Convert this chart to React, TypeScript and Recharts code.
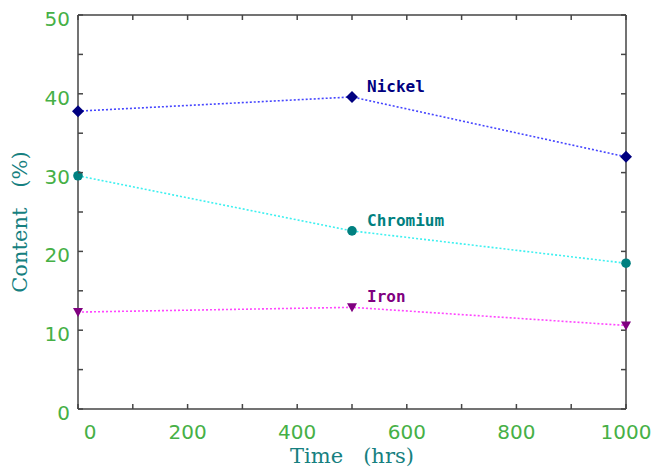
import React from 'react';
import { LineChart, Line, XAxis, YAxis, LabelList } from 'recharts';

const times = [0, 500, 1000];
const nickel = [37.8, 39.6, 32.0];
const chromium = [29.6, 22.6, 18.5];
const iron = [12.3, 12.9, 10.6];
const xTicks = [0, 100, 200, 300, 400, 500, 600, 700, 800, 900, 1000];
const yTicks = [0, 5, 10, 15, 20, 25, 30, 35, 40, 45, 50];
const xLabelStep = 200;
const yLabelStep = 10;
const seriesNames = ['Nickel', 'Chromium', 'Iron'];
const xTitle = 'Time   (hrs)';
const yTitle = 'Content   (%)';

const data = times.map((t, i) => ({ time: t, nickel: nickel[i], chromium: chromium[i], iron: iron[i] }));

const AXIS = '#454545';
const GREEN = '#46b046';
const TEAL = '#168080';
const TICK_LEN = 5;

const BottomTick = (p: any) => {
  const { x, y, payload } = p;
  const v = payload.value;
  return (
    <g>
      <line x1={x} y1={y} x2={x} y2={y - TICK_LEN} stroke={AXIS} strokeWidth={1.5} />
      {v % xLabelStep === 0 && (
        <text x={x + (v === 0 ? 12 : 0)} y={y + 30} textAnchor="middle" fill={GREEN} fontSize={20} fontFamily="DejaVu Sans">
          {v}
        </text>
      )}
    </g>
  );
};
const TopTick = (p: any) => {
  const { x, y } = p;
  return <line x1={x} y1={y} x2={x} y2={y + TICK_LEN} stroke={AXIS} strokeWidth={1.5} />;
};
const LeftTick = (p: any) => {
  const { x, y, payload } = p;
  const v = payload.value;
  return (
    <g>
      <line x1={x} y1={y} x2={x + TICK_LEN} y2={y} stroke={AXIS} strokeWidth={1.5} />
      {v % yLabelStep === 0 && (
        <text x={x - 8} y={y + 11} textAnchor="end" fill={GREEN} fontSize={20} fontFamily="DejaVu Sans">
          {v}
        </text>
      )}
    </g>
  );
};
const RightTick = (p: any) => {
  const { x, y } = p;
  return <line x1={x} y1={y} x2={x - TICK_LEN} y2={y} stroke={AXIS} strokeWidth={1.5} />;
};

const diamondDot = (color: string) => (p: any) => {
  const { cx, cy, index } = p;
  return (
    <polygon key={`d${index}`} points={`${cx},${cy - 6} ${cx + 6},${cy} ${cx},${cy + 6} ${cx - 6},${cy}`} fill={color} />
  );
};
const circleDot = (color: string) => (p: any) => {
  const { cx, cy, index } = p;
  return <circle key={`c${index}`} cx={cx} cy={cy} r={4.8} fill={color} />;
};
const triDot = (color: string) => (p: any) => {
  const { cx, cy, index } = p;
  return (
    <polygon key={`t${index}`} points={`${cx - 5},${cy - 4} ${cx + 5},${cy - 4} ${cx},${cy + 5}`} fill={color} />
  );
};

const seriesLabel = (name: string, color: string) => (p: any) => {
  const { x, y, index } = p;
  if (index !== 1) return null;
  return (
    <text x={x + 15} y={y - 5} fill={color} fontSize={16} fontWeight="bold" fontFamily="DejaVu Sans Mono">
      {name}
    </text>
  );
};

const series = [
  { key: 'nickel', name: seriesNames[0], line: '#4646ff', mark: '#000080', dot: diamondDot },
  { key: 'chromium', name: seriesNames[1], line: '#3ef0f0', mark: '#008080', dot: circleDot },
  { key: 'iron', name: seriesNames[2], line: '#ff46ff', mark: '#800080', dot: triDot },
];

export default function App() {
  return (
    <div style={{ position: 'absolute', left: 0, top: 0, background: '#fff' }}>
      <LineChart width={651} height={467} data={data} margin={{ top: 14, right: 24, bottom: 0, left: 0 }}>
        <XAxis
          dataKey="time"
          type="number"
          domain={[0, 1000]}
          ticks={xTicks}
          interval={0}
          height={58}
          tickSize={0}
          tickMargin={0}
          tickLine={false}
          axisLine={{ stroke: AXIS, strokeWidth: 1.5 }}
          tick={<BottomTick />}
          label={(lp: any) => {
            const vb = lp.viewBox;
            return (
              <text
                x={vb.x + vb.width / 2}
                y={vb.y + 54}
                textAnchor="middle"
                fill={TEAL}
                fontSize={21}
                fontFamily="DejaVu Serif"
                style={{ whiteSpace: 'pre' }}
              >
                {xTitle}
              </text>
            );
          }}
        />
        <XAxis
          xAxisId="top"
          dataKey="time"
          orientation="top"
          type="number"
          domain={[0, 1000]}
          ticks={xTicks}
          interval={0}
          height={1}
          tickSize={0}
          tickMargin={0}
          tickLine={false}
          axisLine={{ stroke: AXIS, strokeWidth: 1.5 }}
          tick={<TopTick />}
        />
        <YAxis
          type="number"
          domain={[0, 50]}
          ticks={yTicks}
          interval={0}
          width={78}
          tickSize={0}
          tickMargin={0}
          tickLine={false}
          axisLine={{ stroke: AXIS, strokeWidth: 1.5 }}
          tick={<LeftTick />}
          label={(lp: any) => {
            const vb = lp.viewBox;
            const cx = vb.x + 27;
            const cy = vb.y + vb.height / 2 + 10;
            return (
              <text
                x={cx}
                y={cy}
                transform={`rotate(-90 ${cx} ${cy})`}
                textAnchor="middle"
                fill={TEAL}
                fontSize={21}
                fontFamily="DejaVu Serif"
                style={{ whiteSpace: 'pre' }}
              >
                {yTitle}
              </text>
            );
          }}
        />
        <YAxis
          yAxisId="right"
          orientation="right"
          type="number"
          domain={[0, 50]}
          ticks={yTicks}
          interval={0}
          width={1}
          tickSize={0}
          tickMargin={0}
          tickLine={false}
          axisLine={{ stroke: AXIS, strokeWidth: 1.5 }}
          tick={<RightTick />}
        />
        <Line
          xAxisId="top"
          yAxisId="right"
          dataKey="nickel"
          stroke="none"
          dot={false}
          activeDot={false}
          legendType="none"
          isAnimationActive={false}
        />
        {series.map((s) => (
          <Line
            key={s.key}
            dataKey={s.key}
            type="linear"
            stroke={s.line}
            strokeWidth={1.6}
            strokeDasharray="2 2"
            dot={s.dot(s.mark)}
            activeDot={false}
            isAnimationActive={false}
          >
            <LabelList dataKey={s.key} content={seriesLabel(s.name, s.mark)} />
          </Line>
        ))}
      </LineChart>
    </div>
  );
}
